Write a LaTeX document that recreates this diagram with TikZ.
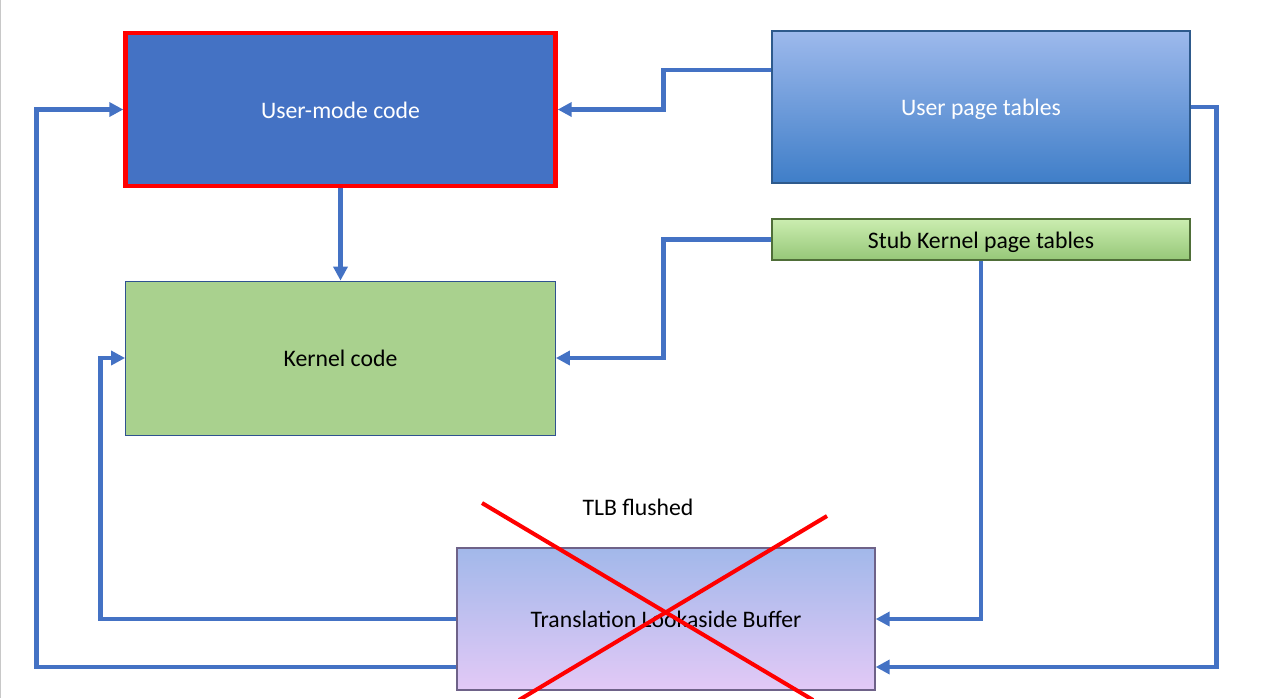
\documentclass[tikz,border=0pt]{standalone}
\usepackage{fontspec}
\setmainfont{Carlito}
\usetikzlibrary{arrows.meta,positioning}
\definecolor{linkblue}{HTML}{4472C4}
\definecolor{usrblue}{HTML}{4472C4}
\definecolor{alertred}{HTML}{FF0000}
\definecolor{kgreen}{HTML}{A9D18E}
\definecolor{kborder}{HTML}{2F528F}
\definecolor{upttop}{HTML}{9DB9EC}
\definecolor{uptbottom}{HTML}{3F7EC8}
\definecolor{uptborder}{HTML}{2E5A8C}
\definecolor{stubtop}{HTML}{CBEDB0}
\definecolor{stubbottom}{HTML}{96C778}
\definecolor{stubborder}{HTML}{4F6E38}
\definecolor{tlbtop}{HTML}{A2B8EA}
\definecolor{tlbbottom}{HTML}{E2C9F6}
\definecolor{tlbborder}{HTML}{6E6288}
\definecolor{edgegray}{HTML}{C8C8C8}
\tikzset{
  box/.style={inner sep=0pt, align=center, font=\fontsize{13.5}{16}\selectfont, text height=2.3ex, text depth=0.2ex},
  codebox/.style={box, minimum width=8.6cm, minimum height=3.06cm},
  tablebox/.style={box, minimum width=8.36cm, text=white},
  link/.style={-{Triangle[length=2.8mm,width=2.8mm]}, line width=2.5pt, draw=linkblue},
  cross/.style={line width=2.3pt, draw=alertred},
  note/.style={font=\fontsize{13.5}{16}\selectfont, inner sep=1pt}
}

\begin{document}
\begin{tikzpicture}[x=0.02cm, y=-0.02cm]
\useasboundingbox (0,0) rectangle (1268,698);
\draw[edgegray, line width=0.6pt] (0.5,0) -- (0.5,698);
\node[codebox, fill=usrblue, draw=alertred, line width=2.55pt, text=white] (user) at (340.5,109.5) {User-mode code};
\node[codebox, fill=kgreen, draw=kborder, line width=0.5pt, minimum height=3.08cm] (kernel) at (340.5,358) {Kernel code};
\node[tablebox, minimum height=3.04cm, top color=upttop, bottom color=uptbottom, draw=uptborder, line width=0.8pt] (upt) at (981,107) {User page tables};
\node[tablebox, minimum height=0.82cm, top color=stubtop, bottom color=stubbottom, draw=stubborder, line width=0.8pt, text=black] (stub) at (981,239.5) {Stub Kernel page tables};
\node[box, minimum width=8.36cm, minimum height=2.84cm, top color=tlbtop, bottom color=tlbbottom, draw=tlbborder, line width=0.8pt] (tlb) at (666,619) {Translation Lookaside Buffer};
\node[note] (flushed) at (638,507) {TLB flushed};
\draw[link] ([yshift=0.74cm]upt.west) -- ++(-2.16cm,0) |- (user.east);
\draw[link] (user.south) -- (kernel.north);
\draw[link] (stub.west) -- ++(-2.16cm,0) |- (kernel.east);
\draw[link] (stub.south) |- (tlb.east);
\draw[link] (upt.east) -- ++(0.52cm,0) |- ([yshift=-0.96cm]tlb.east);
\draw[link] (tlb.west) -- ++(-7.12cm,0) |- (kernel.west);
\draw[link] ([yshift=-0.96cm]tlb.west) -- ++(-8.4cm,0) |- (user.west);
% the flush crosses out the TLB
\draw[cross] (482,503) -- (813,700);
\draw[cross] (827,516) -- (519,700);
\end{tikzpicture}
\end{document}
